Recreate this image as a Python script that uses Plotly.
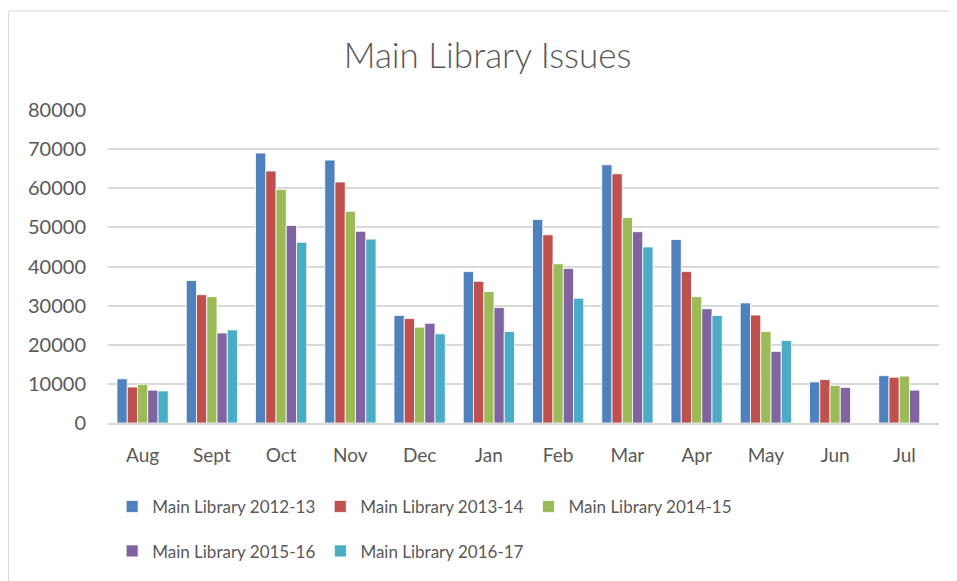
import plotly.graph_objects as go

months = ["Aug", "Sept", "Oct", "Nov", "Dec", "Jan", "Feb", "Mar", "Apr", "May", "Jun", "Jul"]
s2012_13 = [11300, 36400, 69000, 67200, 27500, 38700, 52000, 66000, 46900, 30700, 10500, 12100]
s2013_14 = [9200, 32800, 64400, 61600, 26700, 36200, 48100, 63700, 38700, 27600, 11100, 11700]
s2014_15 = [9900, 32300, 59700, 54100, 24500, 33600, 40700, 52500, 32300, 23400, 9600, 12000]
s2015_16 = [8400, 23000, 50500, 49000, 25500, 29500, 39500, 48900, 29200, 18300, 9100, 8400]
s2016_17 = [8200, 23800, 46200, 47000, 22800, 23400, 31900, 45000, 27500, 21100, None, None]

series_names = ["Main Library 2012-13", "Main Library 2013-14", "Main Library 2014-15",
                "Main Library 2015-16", "Main Library 2016-17"]
series_values = [s2012_13, s2013_14, s2014_15, s2015_16, s2016_17]
colors = ["#4F81BD", "#C0504D", "#9BBB59", "#8064A2", "#4BACC6"]
legend_ids = ["legend", "legend", "legend", "legend2", "legend2"]

FONT = "Lato"
TXT = "#595959"

fig = go.Figure()
for name, vals, col, lg in zip(series_names, series_values, colors, legend_ids):
    fig.add_trace(go.Bar(
        x=months, y=vals, name=name, legend=lg,
        marker=dict(color=col, line=dict(color="white", width=0.8)),
    ))

L, T, W, H = 100, 102, 831, 313

leg_common = dict(orientation="h", xanchor="left", yanchor="middle",
                  font=dict(family=FONT, size=17, color=TXT), traceorder="normal",
                  bgcolor="rgba(0,0,0,0)")

fig.update_layout(
    width=957, height=581,
    margin=dict(l=L, r=957 - L - W, t=T, b=581 - T - H),
    paper_bgcolor="white", plot_bgcolor="white",
    barmode="group", bargap=0.26, bargroupgap=0.0,
    font=dict(family=FONT, color=TXT, size=19),
    title=dict(text="Main Library Issues", x=479.5 / 957, xanchor="center",
               y=1 - 48 / 581, yanchor="middle",
               font=dict(family="Lato Light, Lato", size=35, color=TXT)),
    showlegend=True,
    legend=dict(x=0.005, y=-0.268, **leg_common),
    legend2=dict(x=0.005, y=-0.41, **leg_common),
    xaxis=dict(showgrid=False, showline=True, linecolor="#d9d9d9", linewidth=1.5,
               ticks="outside", ticklen=14, tickcolor="rgba(0,0,0,0)",
               tickfont=dict(family=FONT, size=19, color=TXT)),
    yaxis=dict(range=[0, 80000], dtick=10000, tickformat="d", showgrid=True,
               gridcolor="#d9d9d9", gridwidth=1.5, zeroline=False, showline=False,
               ticks="outside", ticklen=17, tickcolor="rgba(0,0,0,0)",
               tickfont=dict(family=FONT, size=20, color=TXT)),
    shapes=[dict(type="rect", xref="paper", yref="paper",
                 x0=(0.5 - L) / W, x1=(975 - L) / W,
                 y0=(T + H - 600) / H, y1=(T + H - 3) / H,
                 line=dict(color="#d9d9d9", width=1), layer="below")],
)

fig.write_html("out.html")
